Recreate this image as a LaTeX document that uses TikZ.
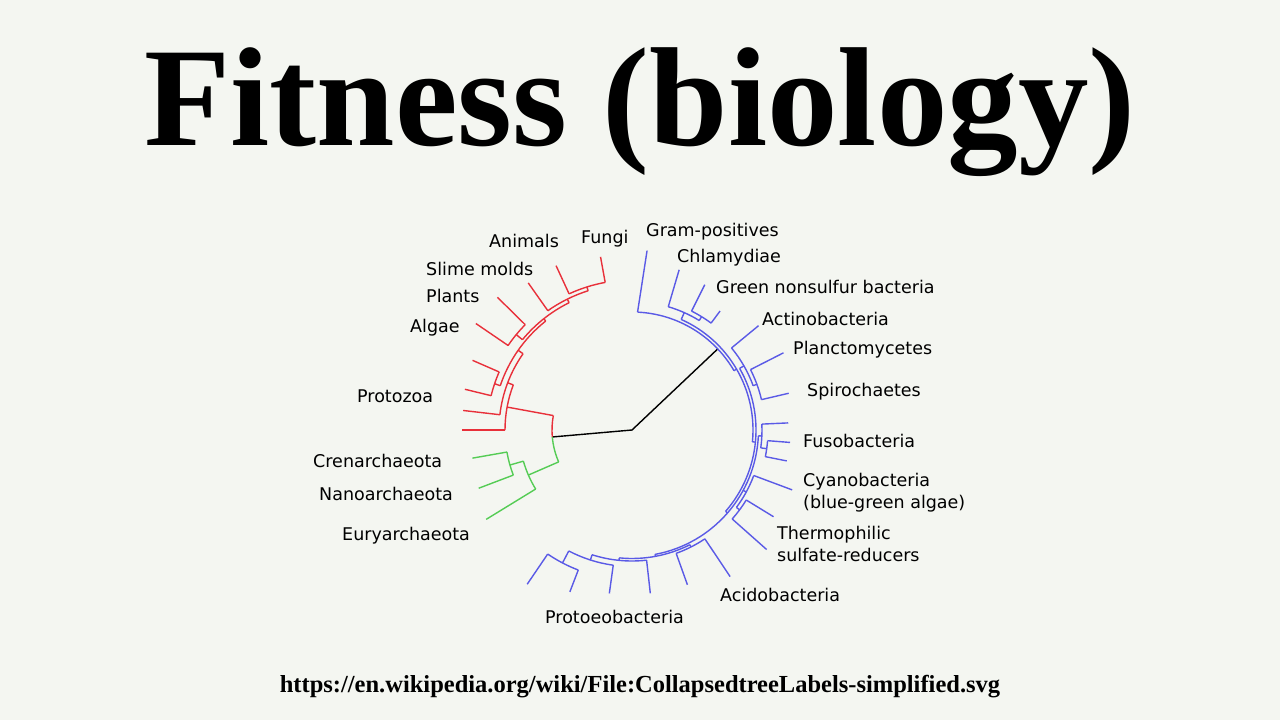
\documentclass[tikz,border=0pt]{standalone}
\usepackage{fontspec}
\setmainfont{DejaVu Sans}
\newfontfamily\ttlfont{Liberation Serif}
\usepackage{tikz}
\definecolor{eukc}{HTML}{E8303A}
\definecolor{archc}{HTML}{55CC55}
\definecolor{bacc}{HTML}{5A5AE6}
\definecolor{bgc}{HTML}{F4F6F1}
\tikzset{
  lab/.style={font=\fontsize{17.5}{22}\selectfont,inner sep=0pt,anchor=base west},
  tr/.style={line width=1.4pt,line join=round}
}
% radial branch: angle, inner radius, outer radius
\newcommand{\rbr}[3]{\draw (#1:#2) -- (#1:#3);}
% arc at radius #1 from angle #2 to #3
\newcommand{\cbr}[3]{\draw (#2:#1) arc[start angle=#2,end angle=#3,radius=#1];}
\begin{document}
\begin{tikzpicture}[x=1pt,y=-1pt]
\useasboundingbox (0,0) rectangle (1280,720);
\fill[bgc] (0,0) rectangle (1280,720);
\node (title) at (640,145) [anchor=base,font=\ttlfont\bfseries\fontsize{141}{150}\selectfont] {Fitness (biology)};
\node (url) at (640,692) [anchor=base,font=\ttlfont\bfseries\fontsize{24.5}{28}\selectfont] {https://en.wikipedia.org/wiki/File:CollapsedtreeLabels-simplified.svg};

\begin{scope}[shift={(632,430)},tr]
\draw[black] (175:80) -- (0,0) -- (-43.4:118);
% eukaryotes
\begin{scope}[eukc]
\cbr{80}{175}{190.4} \rbr{190.4}{80}{127}
\cbr{127}{180}{200.8} \rbr{180}{127}{170}
\rbr{200.8}{127}{133} \cbr{133}{186.6}{215} \rbr{186.6}{133}{170}
\rbr{215}{133}{139} \cbr{139}{198.6}{231.6}
\rbr{198.6}{139}{145} \cbr{145}{193.7}{203.6} \rbr{193.7}{145}{172} \rbr{203.6}{145}{174}
\rbr{231.6}{139}{142} \cbr{142}{219.5}{243.7}
\rbr{219.5}{142}{150} \cbr{150}{214.3}{224.6} \rbr{214.3}{150}{189} \rbr{224.6}{150}{189}
\rbr{243.7}{142}{146} \cbr{146}{234.8}{252.5} \rbr{234.8}{146}{180}
\rbr{252.5}{146}{150} \cbr{150}{245.2}{259.7} \rbr{245.2}{150}{181} \rbr{259.7}{150}{176}
\end{scope}
% archaea
\begin{scope}[archc]
\cbr{80}{156.5}{175} \rbr{156.5}{80}{113}
\cbr{113}{148.5}{164} \rbr{148.5}{113}{171}
\rbr{164}{113}{127} \cbr{127}{159.2}{170} \rbr{170}{127}{162} \rbr{159.2}{127}{164}
\end{scope}
% bacteria
\begin{scope}[bacc]
\cbr{118}{-87.3}{-30.2} \draw (-87.3:118) -- (-85.2:180);
\rbr{-30.2}{118}{121} \cbr{121}{-66}{5.6}
\rbr{-66}{121}{128.5} \cbr{128.5}{-73.6}{-58.45} \rbr{-73.6}{128.5}{167}
\rbr{-58.45}{128.5}{133} \cbr{133}{-63.4}{-53.5} \rbr{-63.4}{133}{162.5} \rbr{-53.5}{133}{148}
\rbr{5.6}{121}{124} \cbr{124}{-29.8}{41}
\rbr{-29.8}{124}{129} \cbr{129}{-39.5}{-20.1} \rbr{-39.5}{129}{164}
\rbr{-20.1}{129}{133} \cbr{133}{-27}{-13.2} \rbr{-27}{133}{170} \rbr{-13.2}{133}{161}
\rbr{41}{124}{126.5} \cbr{126.5}{2.65}{79.5}
\rbr{2.65}{126.5}{130} \cbr{130}{-2.6}{7.9} \rbr{-2.6}{130}{156.4}
\rbr{7.9}{130}{136} \cbr{136}{4.5}{11.3} \rbr{4.5}{136}{158.5} \rbr{11.3}{136}{157.8}
\rbr{28.5}{126.5}{130} \cbr{130}{20.5}{36.55} \rbr{20.5}{130}{171}
\rbr{36.55}{130}{134} \cbr{134}{31.5}{41.6} \rbr{31.5}{134}{166} \rbr{41.6}{134}{180}
\rbr{79.5}{126.5}{128.5} \cbr{128.5}{63.25}{95.7}
\rbr{63.25}{128.5}{131} \cbr{131}{56.2}{70.3} \rbr{56.2}{131}{176.4} \rbr{70.3}{131}{164.4}
\rbr{95.7}{128.5}{131} \cbr{131}{83.6}{107.75} \rbr{83.6}{131}{164.3}
\rbr{107.75}{131}{136.5} \cbr{136.5}{97.9}{117.6} \rbr{97.9}{136.5}{165}
\rbr{117.6}{136.5}{150} \cbr{150}{111}{124.2} \rbr{111}{150}{173.4} \rbr{124.2}{150}{186.5}
\end{scope}
\end{scope}

\node[lab] (fungi) at (581,243) {Fungi};
\node[lab] (animals) at (489,247) {Animals};
\node[lab] (slime) at (426,275) {Slime molds};
\node[lab] (plants) at (426,302) {Plants};
\node[lab] (algae) at (410,332) {Algae};
\node[lab] (protozoa) at (357,402) {Protozoa};
\node[lab] (cren) at (313,467) {Crenarchaeota};
\node[lab] (nano) at (319,500) {Nanoarchaeota};
\node[lab] (eury) at (342,540) {Euryarchaeota};
\node[lab] (gram) at (646,236) {Gram-positives};
\node[lab] (chlam) at (677,262) {Chlamydiae};
\node[lab] (green) at (716,293) {Green nonsulfur bacteria};
\node[lab] (actino) at (762,325) {Actinobacteria};
\node[lab] (plancto) at (793,354) {Planctomycetes};
\node[lab] (spiro) at (807,396) {Spirochaetes};
\node[lab] (fuso) at (803,447) {Fusobacteria};
\node[lab,anchor=north west,align=left] (cyano) at (803,473) {Cyanobacteria\\(blue-green algae)};
\node[lab,anchor=north west,align=left] (thermo) at (777,526) {Thermophilic\\sulfate-reducers};
\node[lab] (acido) at (720,601) {Acidobacteria};
\node[lab] (proteo) at (545,623) {Protoeobacteria};
\end{tikzpicture}
\end{document}
